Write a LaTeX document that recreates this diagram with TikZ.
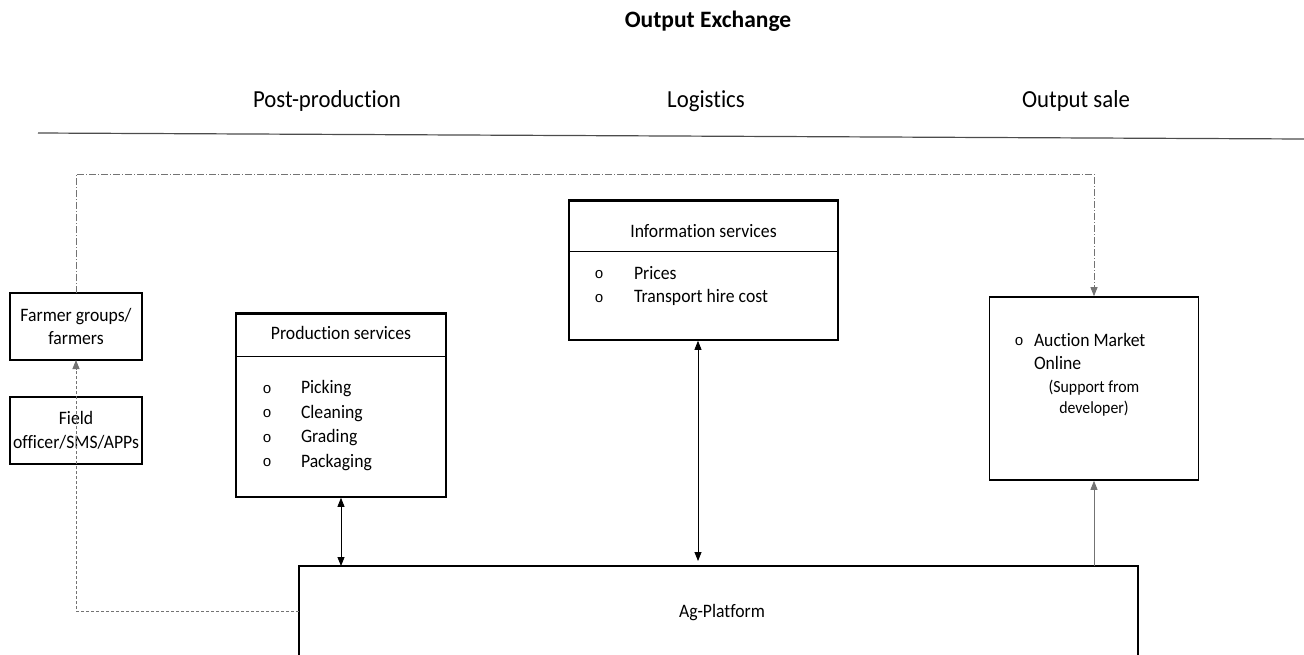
\documentclass[tikz,border=0pt]{standalone}
\usepackage{fontspec}
\setmainfont{Carlito}[Ligatures=NoCommon]
\newfontfamily\narrowfont{Carlito}[FakeStretch=0.93, Ligatures=NoCommon]
\newfontfamily\bulletfont{Liberation Mono}
\usetikzlibrary{arrows.meta}

\tikzset{
  box/.style={draw=black, line width=1.6pt, rectangle, inner sep=0pt},
  plain/.style={inner sep=0pt, outer sep=0pt},
  titletext/.style={plain, font=\bfseries\fontsize{23.5}{28}\selectfont},
  headtext/.style={plain, font=\narrowfont\fontsize{24.5}{28}\selectfont},
  boxtext/.style={plain, font=\narrowfont\fontsize{19}{23.5}\selectfont},
  smalltext/.style={plain, font=\narrowfont\fontsize{17}{20}\selectfont},
  bul/.style={plain, font=\bulletfont\fontsize{15}{16}\selectfont},
  arrowtip/.tip={Triangle[length=9pt,width=7pt]},
  tip/.style={-arrowtip},
  tips/.style={arrowtip-arrowtip},
  link/.style={line width=0.8pt, black},
  grey link/.style={line width=0.8pt, black!55},
  dashdotline/.style={line width=0.8pt, black!55, dash pattern=on 7pt off 2pt on 1pt off 2pt},
  dashline/.style={line width=0.8pt, black!55, dash pattern=on 3pt off 2pt},
}

\begin{document}
\begin{tikzpicture}[x=1pt, y=-1pt]
\useasboundingbox (0,0) rectangle (1304,654);

% headings
\node[titletext, anchor=base] (title) at (708,27) {Output Exchange};
\node[headtext, anchor=base] (post) at (327,107) {Post-production};
\node[headtext, anchor=base] (logi) at (706,107) {Logistics};
\node[headtext, anchor=base] (osale) at (1076,107) {Output sale};
\coordinate (rule l) at (38,133);
\coordinate (rule r) at (1304,139);
\draw[line width=1.2pt, black!70] (rule l) -- (rule r);

% farmer side
\node[box, minimum width=132pt, minimum height=67pt, align=center, boxtext] (farmer) at (76,326.5)
  {Farmer groups/\\farmers};
\node[box, minimum width=132pt, minimum height=67pt, align=center, boxtext] (field) at (76,430.5)
  {Field\\officer/SMS/APPs};

% production services
\node[box, minimum width=210pt, minimum height=183pt] (prod) at (341,405.5) {};
\draw[line width=2.8pt] (prod.north west) -- (prod.north east);
\draw[line width=1.2pt] ([yshift=-43pt]prod.north west) -- ([yshift=-43pt]prod.north east);
\node[boxtext, anchor=base] (prodh) at (341,339) {Production services};
\node[bul, anchor=base] (pb1) at (267,393) {o};
\node[bul, anchor=base] (pb2) at (267,417.5) {o};
\node[bul, anchor=base] (pb3) at (267,442) {o};
\node[bul, anchor=base] (pb4) at (267,466.5) {o};
\node[boxtext, anchor=base west] (pi1) at (301,393.5) {Picking};
\node[boxtext, anchor=base west] (pi2) at (301,418) {Cleaning};
\node[boxtext, anchor=base west] (pi3) at (301,442.5) {Grading};
\node[boxtext, anchor=base west] (pi4) at (301,467) {Packaging};

% information services
\node[box, minimum width=269pt, minimum height=139pt] (info) at (703.5,270.5) {};
\draw[line width=2.8pt] (info.north west) -- (info.north east);
\draw[line width=1.2pt] ([yshift=-51pt]info.north west) -- ([yshift=-51pt]info.north east);
\node[boxtext, anchor=base] (infoh) at (703.5,237) {Information services};
\node[bul, anchor=base] (ib1) at (599,278.5) {o};
\node[bul, anchor=base] (ib2) at (599,302) {o};
\node[boxtext, anchor=base west] (ii1) at (634,279) {Prices};
\node[boxtext, anchor=base west] (ii2) at (634,302.5) {Transport hire cost};

% auction market
\node[box, minimum width=209pt, minimum height=183pt] (auction) at (1094,388.5) {};
\node[bul, anchor=base] (ab1) at (1019,345.5) {o};
\node[boxtext, anchor=base west] (a1) at (1034,346) {Auction Market};
\node[boxtext, anchor=base west] (a2) at (1034,369.5) {Online};
\node[smalltext, anchor=base] (a3) at (1094,392.5) {(Support from};
\node[smalltext, anchor=base] (a4) at (1094,413.5) {developer)};

% platform (runs off the lower edge)
\node[plain, minimum width=839pt, minimum height=90pt] (ag) at (718.5,611) {};
\draw[line width=1.6pt] (ag.south west) -- (ag.north west) -- (ag.north east) -- (ag.south east);
\node[boxtext, anchor=base] (agt) at (722,617) {Ag-Platform};

% connectors
\coordinate (dtop) at (0,174);
\coordinate (ix) at (698,0);
\draw[dashdotline, tip] (farmer.north) -- (farmer.north |- dtop) -| (auction.north);
\draw[dashline, tip] (ag.west) -| (farmer.south);
\draw[link, tips] (prod.south) -- (prod.south |- ag.north);
\draw[link, tips, shorten >=5pt] (info.south -| ix) -- (ag.north -| ix);
\draw[grey link, tip] (ag.north -| auction.south) -- (auction.south);
\end{tikzpicture}
\end{document}
